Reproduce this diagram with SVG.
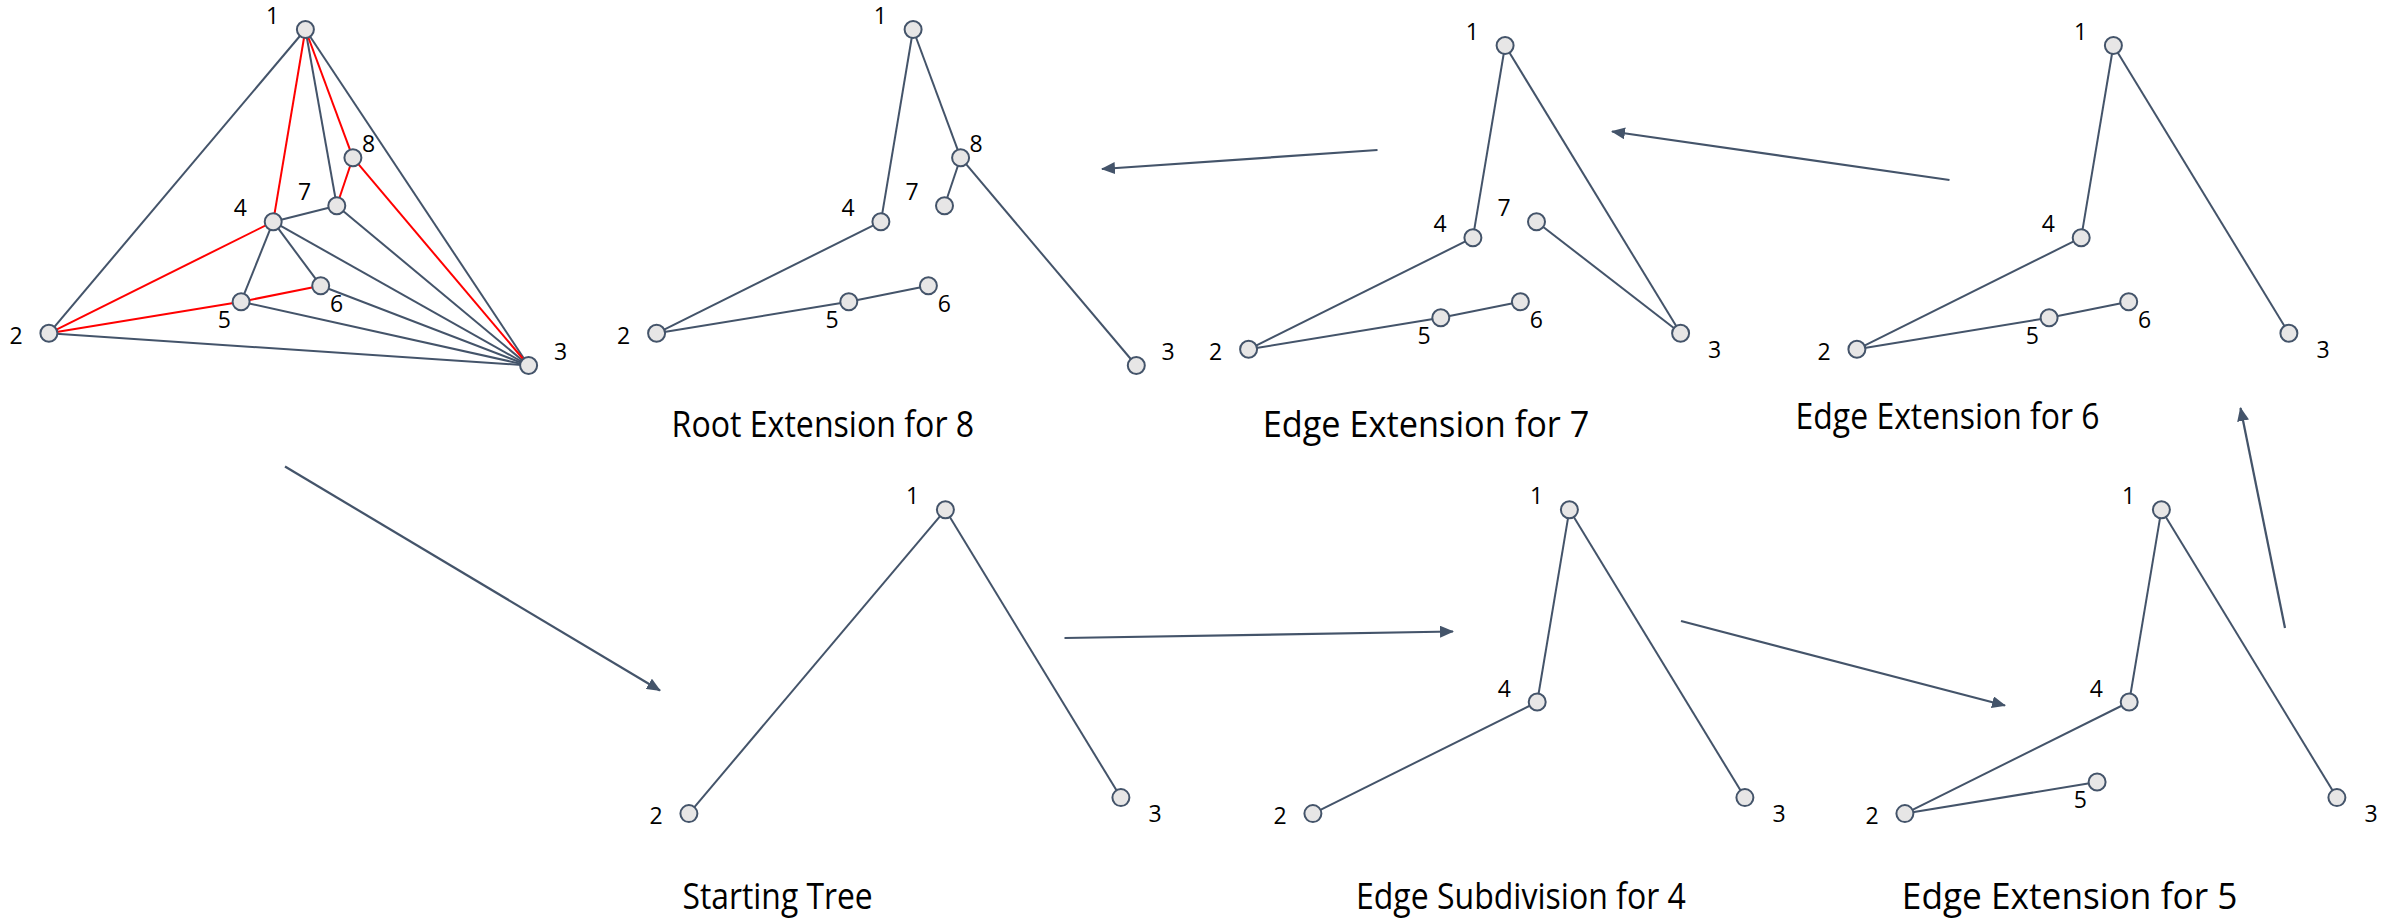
<svg xmlns="http://www.w3.org/2000/svg" width="2394" height="918" viewBox="0 0 2394 918">
  <style>
    .e { stroke: #44546A; stroke-width: 2; fill: none; }
    .r { stroke: #FF0000; stroke-width: 2; fill: none; }
    .arrow { stroke: #44546A; stroke-width: 2.25; fill: none; marker-end: url(#head); }
    .node circle { fill: #E7E6E6; stroke: #44546A; stroke-width: 2; }
    .node text { font-family: "Open Sans", "Liberation Sans", sans-serif; font-size: 23px; fill: #000; text-anchor: middle; }
    .title { font-family: "Open Sans", "Liberation Sans", sans-serif; font-size: 37px; fill: #000; }
  </style>
  <defs>
    <marker id="head" markerUnits="userSpaceOnUse" viewBox="0 0 14 12" markerWidth="14" markerHeight="12" refX="13" refY="6" orient="auto">
      <path d="M0,0 L14,6 L0,12 z" fill="#44546A"/>
    </marker>
  </defs>
  <rect width="2394" height="918" fill="#FFFFFF"/>

  <g id="connectors">
    <!-- triangulation (grey edges, then red tree) -->
    <g id="tri-edges">
      <line class="e" x1="305.4" y1="29.5" x2="48.9" y2="333.3"/>
      <line class="e" x1="305.4" y1="29.5" x2="528.6" y2="365.5"/>
      <line class="e" x1="48.9" y1="333.3" x2="528.6" y2="365.5"/>
      <line class="e" x1="305.4" y1="29.5" x2="336.8" y2="205.7"/>
      <line class="e" x1="273.2" y1="221.7" x2="336.8" y2="205.7"/>
      <line class="e" x1="336.8" y1="205.7" x2="528.6" y2="365.5"/>
      <line class="e" x1="273.2" y1="221.7" x2="528.6" y2="365.5"/>
      <line class="e" x1="273.2" y1="221.7" x2="241.1" y2="301.7"/>
      <line class="e" x1="273.2" y1="221.7" x2="320.7" y2="285.7"/>
      <line class="e" x1="320.7" y1="285.7" x2="528.6" y2="365.5"/>
      <line class="e" x1="241.1" y1="301.7" x2="528.6" y2="365.5"/>
      <line class="r" x1="305.4" y1="29.5" x2="273.2" y2="221.7"/>
      <line class="r" x1="305.4" y1="29.5" x2="352.9" y2="157.7"/>
      <line class="r" x1="352.9" y1="157.7" x2="336.8" y2="205.7"/>
      <line class="r" x1="352.9" y1="157.7" x2="528.6" y2="365.5"/>
      <line class="r" x1="273.2" y1="221.7" x2="48.9" y2="333.3"/>
      <line class="r" x1="48.9" y1="333.3" x2="241.1" y2="301.7"/>
      <line class="r" x1="241.1" y1="301.7" x2="320.7" y2="285.7"/>
    </g>
    <!-- root extension for 8 -->
    <g id="r8-edges">
      <line class="e" x1="913.1" y1="29.5" x2="880.9" y2="221.7"/>
      <line class="e" x1="913.1" y1="29.5" x2="960.6" y2="157.7"/>
      <line class="e" x1="960.6" y1="157.7" x2="944.5" y2="205.7"/>
      <line class="e" x1="960.6" y1="157.7" x2="1136.3" y2="365.5"/>
      <line class="e" x1="880.9" y1="221.7" x2="656.6" y2="333.3"/>
      <line class="e" x1="656.6" y1="333.3" x2="848.8" y2="301.7"/>
      <line class="e" x1="848.8" y1="301.7" x2="928.4" y2="285.7"/>
    </g>
    <!-- edge extension for 7 -->
    <g id="e7-edges">
      <line class="e" x1="1505.1" y1="45.5" x2="1472.9" y2="237.7"/>
      <line class="e" x1="1505.1" y1="45.5" x2="1680.6" y2="333.3"/>
      <line class="e" x1="1472.9" y1="237.7" x2="1248.6" y2="349.3"/>
      <line class="e" x1="1248.6" y1="349.3" x2="1440.8" y2="317.7"/>
      <line class="e" x1="1440.8" y1="317.7" x2="1520.4" y2="301.7"/>
      <line class="e" x1="1536.5" y1="221.7" x2="1680.6" y2="333.3"/>
    </g>
    <!-- edge extension for 6 -->
    <g id="e6-edges">
      <line class="e" x1="2113.4" y1="45.5" x2="2081.2" y2="237.7"/>
      <line class="e" x1="2113.4" y1="45.5" x2="2288.9" y2="333.3"/>
      <line class="e" x1="2081.2" y1="237.7" x2="1856.9" y2="349.3"/>
      <line class="e" x1="1856.9" y1="349.3" x2="2049.1" y2="317.7"/>
      <line class="e" x1="2049.1" y1="317.7" x2="2128.7" y2="301.7"/>
    </g>
    <!-- starting tree -->
    <g id="st-edges">
      <line class="e" x1="945.4" y1="509.8" x2="688.9" y2="813.6"/>
      <line class="e" x1="945.4" y1="509.8" x2="1120.9" y2="797.6"/>
    </g>
    <!-- edge subdivision for 4 -->
    <g id="es4-edges">
      <line class="e" x1="1569.4" y1="509.8" x2="1537.2" y2="702"/>
      <line class="e" x1="1537.2" y1="702" x2="1312.9" y2="813.6"/>
      <line class="e" x1="1569.4" y1="509.8" x2="1744.9" y2="797.6"/>
    </g>
    <!-- edge extension for 5 -->
    <g id="ee5-edges">
      <line class="e" x1="2161.4" y1="509.8" x2="2129.2" y2="702"/>
      <line class="e" x1="2129.2" y1="702" x2="1904.9" y2="813.6"/>
      <line class="e" x1="1904.9" y1="813.6" x2="2097.1" y2="782"/>
      <line class="e" x1="2161.4" y1="509.8" x2="2336.9" y2="797.6"/>
    </g>
    <!-- step arrows -->
    <g id="steps">
      <line class="arrow" x1="285" y1="466.5" x2="660" y2="690.5"/>
      <line class="arrow" x1="1064.5" y1="638" x2="1453" y2="631.5"/>
      <line class="arrow" x1="1681" y1="621" x2="2005" y2="705.5"/>
      <line class="arrow" x1="2285" y1="628" x2="2240.5" y2="408"/>
      <line class="arrow" x1="1949.5" y1="180" x2="1612" y2="131.5"/>
      <line class="arrow" x1="1377.5" y1="150" x2="1102" y2="169"/>
    </g>
  </g>

  <!-- triangulation nodes -->
  <g id="tri-n1" class="node"><circle cx="305.4" cy="29.5" r="8.5"/><text x="272.7" y="24">1</text></g>
  <g id="tri-n2" class="node"><circle cx="48.9" cy="333.3" r="8.5"/><text x="16" y="344">2</text></g>
  <g id="tri-n3" class="node"><circle cx="528.6" cy="365.5" r="8.5"/><text x="560.5" y="359.7">3</text></g>
  <g id="tri-n4" class="node"><circle cx="273.2" cy="221.7" r="8.5"/><text x="240.3" y="216.3">4</text></g>
  <g id="tri-n5" class="node"><circle cx="241.1" cy="301.7" r="8.5"/><text x="224.3" y="328">5</text></g>
  <g id="tri-n6" class="node"><circle cx="320.7" cy="285.7" r="8.5"/><text x="336.6" y="312">6</text></g>
  <g id="tri-n7" class="node"><circle cx="336.8" cy="205.7" r="8.5"/><text x="304.5" y="199.7">7</text></g>
  <g id="tri-n8" class="node"><circle cx="352.9" cy="157.7" r="8.5"/><text x="368.5" y="152">8</text></g>

  <!-- root extension for 8 nodes -->
  <g id="r8-n1" class="node"><circle cx="913.1" cy="29.5" r="8.5"/><text x="880.4" y="24">1</text></g>
  <g id="r8-n2" class="node"><circle cx="656.6" cy="333.3" r="8.5"/><text x="623.7" y="344">2</text></g>
  <g id="r8-n3" class="node"><circle cx="1136.3" cy="365.5" r="8.5"/><text x="1168.2" y="359.7">3</text></g>
  <g id="r8-n4" class="node"><circle cx="880.9" cy="221.7" r="8.5"/><text x="848" y="216.3">4</text></g>
  <g id="r8-n5" class="node"><circle cx="848.8" cy="301.7" r="8.5"/><text x="832" y="328">5</text></g>
  <g id="r8-n6" class="node"><circle cx="928.4" cy="285.7" r="8.5"/><text x="944.3" y="312">6</text></g>
  <g id="r8-n7" class="node"><circle cx="944.5" cy="205.7" r="8.5"/><text x="912.2" y="199.7">7</text></g>
  <g id="r8-n8" class="node"><circle cx="960.6" cy="157.7" r="8.5"/><text x="976.2" y="152">8</text></g>

  <!-- edge extension for 7 nodes -->
  <g id="e7-n1" class="node"><circle cx="1505.1" cy="45.5" r="8.5"/><text x="1472.4" y="40">1</text></g>
  <g id="e7-n2" class="node"><circle cx="1248.6" cy="349.3" r="8.5"/><text x="1215.7" y="360">2</text></g>
  <g id="e7-n3" class="node"><circle cx="1680.6" cy="333.3" r="8.5"/><text x="1714.7" y="358">3</text></g>
  <g id="e7-n4" class="node"><circle cx="1472.9" cy="237.7" r="8.5"/><text x="1440" y="232.3">4</text></g>
  <g id="e7-n5" class="node"><circle cx="1440.8" cy="317.7" r="8.5"/><text x="1424" y="344">5</text></g>
  <g id="e7-n6" class="node"><circle cx="1520.4" cy="301.7" r="8.5"/><text x="1536.3" y="328">6</text></g>
  <g id="e7-n7" class="node"><circle cx="1536.5" cy="221.7" r="8.5"/><text x="1504.2" y="215.7">7</text></g>

  <!-- edge extension for 6 nodes -->
  <g id="e6-n1" class="node"><circle cx="2113.4" cy="45.5" r="8.5"/><text x="2080.7" y="40">1</text></g>
  <g id="e6-n2" class="node"><circle cx="1856.9" cy="349.3" r="8.5"/><text x="1824" y="360">2</text></g>
  <g id="e6-n3" class="node"><circle cx="2288.9" cy="333.3" r="8.5"/><text x="2323" y="358">3</text></g>
  <g id="e6-n4" class="node"><circle cx="2081.2" cy="237.7" r="8.5"/><text x="2048.3" y="232.3">4</text></g>
  <g id="e6-n5" class="node"><circle cx="2049.1" cy="317.7" r="8.5"/><text x="2032.3" y="344">5</text></g>
  <g id="e6-n6" class="node"><circle cx="2128.7" cy="301.7" r="8.5"/><text x="2144.6" y="328">6</text></g>

  <!-- starting tree nodes -->
  <g id="st-n1" class="node"><circle cx="945.4" cy="509.8" r="8.5"/><text x="912.7" y="504.3">1</text></g>
  <g id="st-n2" class="node"><circle cx="688.9" cy="813.6" r="8.5"/><text x="656" y="824.3">2</text></g>
  <g id="st-n3" class="node"><circle cx="1120.9" cy="797.6" r="8.5"/><text x="1155" y="822.3">3</text></g>

  <!-- edge subdivision for 4 nodes -->
  <g id="es4-n1" class="node"><circle cx="1569.4" cy="509.8" r="8.5"/><text x="1536.7" y="504.3">1</text></g>
  <g id="es4-n2" class="node"><circle cx="1312.9" cy="813.6" r="8.5"/><text x="1280" y="824.3">2</text></g>
  <g id="es4-n3" class="node"><circle cx="1744.9" cy="797.6" r="8.5"/><text x="1779" y="822.3">3</text></g>
  <g id="es4-n4" class="node"><circle cx="1537.2" cy="702" r="8.5"/><text x="1504.3" y="696.6">4</text></g>

  <!-- edge extension for 5 nodes -->
  <g id="ee5-n1" class="node"><circle cx="2161.4" cy="509.8" r="8.5"/><text x="2128.7" y="504.3">1</text></g>
  <g id="ee5-n2" class="node"><circle cx="1904.9" cy="813.6" r="8.5"/><text x="1872" y="824.3">2</text></g>
  <g id="ee5-n3" class="node"><circle cx="2336.9" cy="797.6" r="8.5"/><text x="2371" y="822.3">3</text></g>
  <g id="ee5-n4" class="node"><circle cx="2129.2" cy="702" r="8.5"/><text x="2096.3" y="696.6">4</text></g>
  <g id="ee5-n5" class="node"><circle cx="2097.1" cy="782" r="8.5"/><text x="2080.3" y="808.3">5</text></g>

  <!-- captions -->
  <g id="titles">
    <text class="title" x="671.6" y="437" textLength="302.6" lengthAdjust="spacingAndGlyphs">Root Extension for 8</text>
    <text class="title" x="1262.7" y="437" textLength="326.7" lengthAdjust="spacingAndGlyphs">Edge Extension for 7</text>
    <text class="title" x="1795.6" y="429" textLength="304" lengthAdjust="spacingAndGlyphs">Edge Extension for 6</text>
    <text class="title" x="682.5" y="909" textLength="190.2" lengthAdjust="spacingAndGlyphs">Starting Tree</text>
    <text class="title" x="1355.9" y="909" textLength="330" lengthAdjust="spacingAndGlyphs">Edge Subdivision for 4</text>
    <text class="title" x="1901.8" y="909" textLength="335.6" lengthAdjust="spacingAndGlyphs">Edge Extension for 5</text>
  </g>
</svg>
